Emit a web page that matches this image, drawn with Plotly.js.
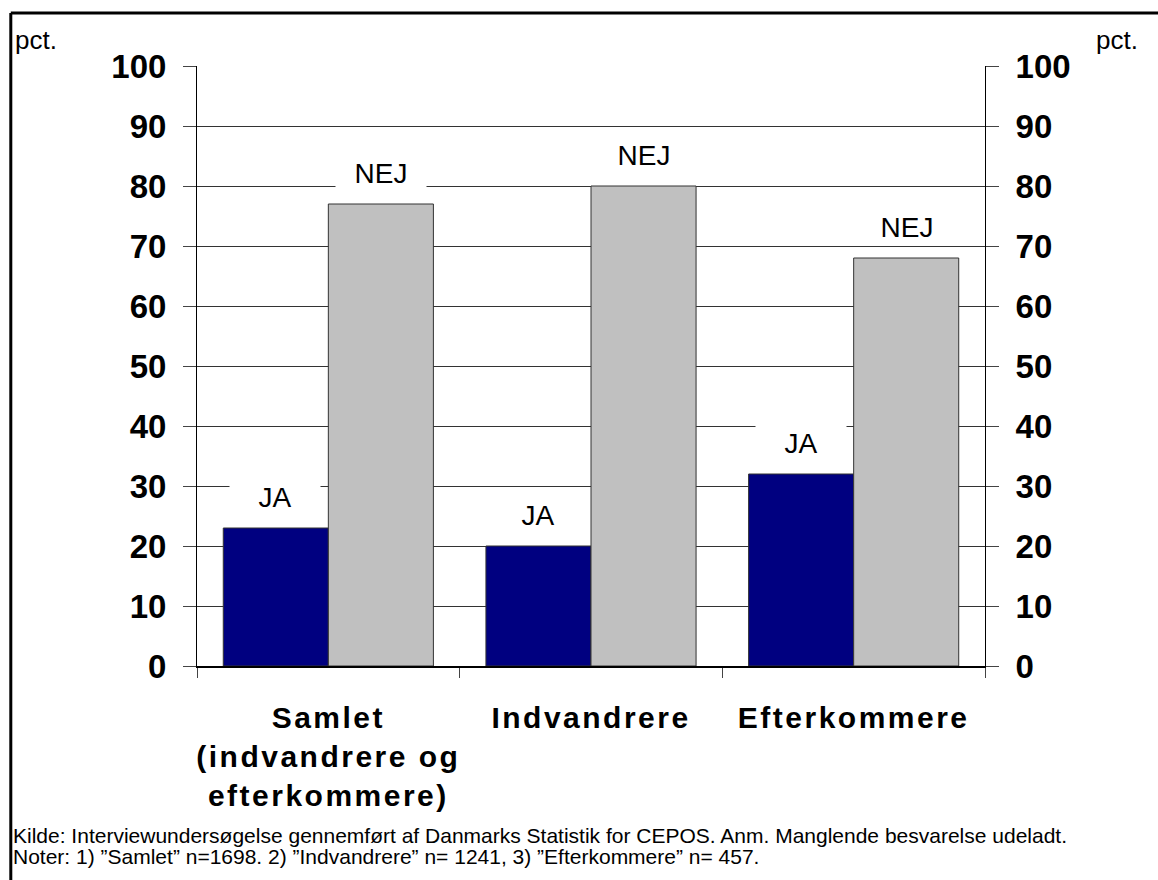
<!DOCTYPE html>
<html>
<head>
<meta charset="utf-8">
<script src="https://cdn.plot.ly/plotly-3.0.1.min.js"></script>
<style>
  html, body { margin: 0; padding: 0; background: #fff; }
  #chart { width: 1158px; height: 880px; }
  .xtick text { letter-spacing: 2.5px; }
</style>
</head>
<body>
<div id="chart"></div>
<script>
// Data
const categories = ["Samlet<br>(indvandrere og<br>efterkommere)", "Indvandrere", "Efterkommere"];
const jaValues = [23, 20, 32];
const nejValues = [77, 80, 68];
const seriesNames = ["JA", "NEJ"];
const yTicks = [0, 10, 20, 30, 40, 50, 60, 70, 80, 90, 100];
const unitLabel = "pct.";
const footnoteLines = [
  "Kilde: Interviewundersøgelse gennemført af Danmarks Statistik for CEPOS. Anm. Manglende besvarelse udeladt.",
  "Noter: 1) \u201dSamlet\u201d n=1698. 2) \u201dIndvandrere\u201d n= 1241, 3) \u201dEfterkommere\u201d n= 457."
];

const FONT = "Liberation Sans, Arial, sans-serif";

const traces = [
  { type: "bar", name: seriesNames[0], x: categories, y: jaValues,
    marker: { color: "#000080", line: { color: "#333333", width: 1 } },
    hoverinfo: "skip" },
  { type: "bar", name: seriesNames[1], x: categories, y: nejValues,
    marker: { color: "#C0C0C0", line: { color: "#333333", width: 1 } },
    hoverinfo: "skip" },
  { type: "scatter", x: categories, y: jaValues, yaxis: "y2", mode: "none",
    showlegend: false, hoverinfo: "skip" }
];

const annotations = [];
const halfBar = 53;
categories.forEach((c, i) => {
  annotations.push({ x: c, y: jaValues[i], xref: "x", yref: "y", text: seriesNames[0],
    showarrow: false, xshift: -halfBar, yshift: 31, yanchor: "middle",
    bgcolor: "#ffffff", width: 88, height: 34,
    font: { family: FONT, size: 28, color: "#000" } });
  annotations.push({ x: c, y: nejValues[i], xref: "x", yref: "y", text: seriesNames[1],
    showarrow: false, xshift: halfBar, yshift: 31, yanchor: "middle",
    bgcolor: "#ffffff", width: 88, height: 34,
    font: { family: FONT, size: 28, color: "#000" } });
});
annotations.push({ x: -0.233, y: 1.072, xref: "paper", yref: "paper", xanchor: "left", yanchor: "top",
  text: unitLabel, showarrow: false, font: { family: FONT, size: 26, color: "#000" } });
annotations.push({ x: 1.138, y: 1.072, xref: "paper", yref: "paper", xanchor: "left", yanchor: "top",
  text: unitLabel, showarrow: false, font: { family: FONT, size: 26, color: "#000" } });
footnoteLines.forEach((line, i) => {
  annotations.push({ x: -0.236, y: [-0.2817, -0.3167][i], xref: "paper", yref: "paper",
    xanchor: "left", yanchor: "middle", text: line, align: "left", showarrow: false,
    font: { family: FONT, size: 21, color: "#000" } });
});

const yAxisCommon = {
  range: [0, 100], tickvals: yTicks, ticktext: yTicks.map(String),
  showline: true, linecolor: "#000", linewidth: 1,
  ticks: "outside", ticklen: 13, tickcolor: "#444", tickwidth: 1,
  tickfont: { family: FONT, size: 33, color: "#000", weight: "bold" },
  ticklabelstandoff: 10, fixedrange: true, zeroline: false
};

const layout = {
  width: 1158, height: 880,
  margin: { l: 197, r: 173, t: 66, b: 214, pad: 0 },
  paper_bgcolor: "#fff", plot_bgcolor: "#fff",
  showlegend: false,
  barmode: "group", bargap: 0.2, bargroupgap: 0,
  xaxis: {
    showline: true, linecolor: "#000", linewidth: 2,
    ticks: "outside", tickson: "boundaries", ticklen: 10, tickcolor: "#444", tickwidth: 1,
    tickfont: { family: FONT, size: 30, color: "#000", weight: "bold" },
    ticklabelstandoff: 24, showgrid: false, fixedrange: true
  },
  yaxis: Object.assign({}, yAxisCommon, { showgrid: true, gridcolor: "#333", gridwidth: 1 }),
  yaxis2: Object.assign({}, yAxisCommon, { overlaying: "y", side: "right", showgrid: false }),
  annotations: annotations,
  shapes: [
    { type: "line", xref: "paper", yref: "paper", x0: -0.2363, x1: 1.25, y0: 1.0883, y1: 1.0883,
      line: { color: "#000", width: 3 } },
    { type: "line", xref: "paper", yref: "paper", x0: -0.2363, x1: -0.2363, y0: 1.0883, y1: -0.4,
      line: { color: "#000", width: 3 } }
  ]
};

Plotly.newPlot("chart", traces, layout, { displayModeBar: false, staticPlot: true });
</script>
</body>
</html>
